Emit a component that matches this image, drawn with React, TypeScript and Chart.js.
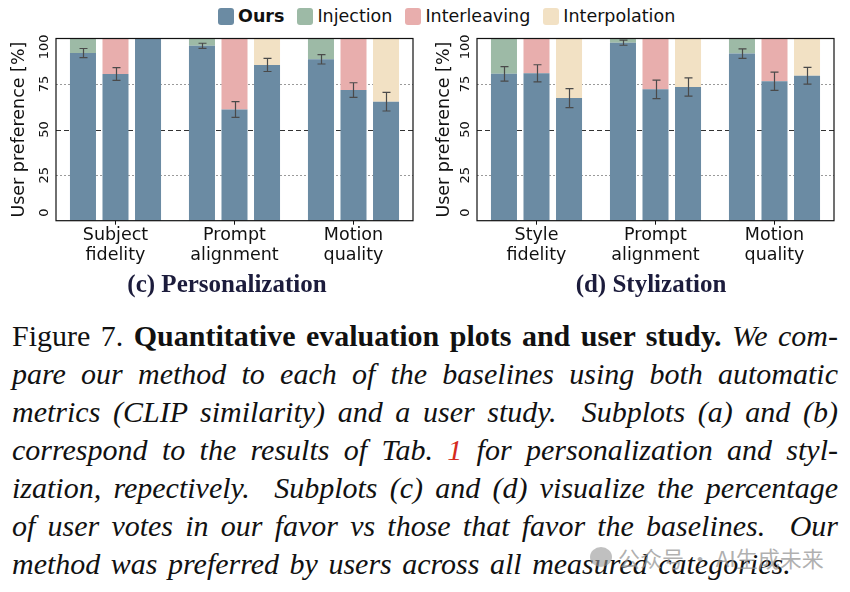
import React, { useEffect, useRef } from 'react';
import { Chart, registerables } from 'chart.js';

Chart.register(...registerables);

// ---------------- data ----------------
const personalizationCategories = [['Subject', 'fidelity'], ['Prompt', 'alignment'], ['Motion', 'quality']];
const stylizationCategories = [['Style', 'fidelity'], ['Prompt', 'alignment'], ['Motion', 'quality']];
const baselineNames = ['Injection', 'Interleaving', 'Interpolation'];
const yTickValues = [0, 25, 50, 75, 100];
const dottedGridValues = [25, 75];
const dashedRefValues = [50];

// (c) Personalization – share of votes for Ours vs each baseline
const persOursVsInjection = [92, 96, 88.6];
const persOursVsInterleaving = [80.5, 61, 71.7];
const persOursVsInterpolation = [100, 85.5, 65.3];
const persInjection = [8, 4, 11.4];
const persInterleaving = [19.5, 39, 28.3];
const persInterpolation = [0, 14.5, 34.7];
const persErrInjection = [2.5, 1.4, 2.6];
const persErrInterleaving = [3.5, 4.3, 4];
const persErrInterpolation = [0, 3.6, 5.1];

// (d) Stylization
const styOursVsInjection = [80.6, 97.7, 91.7];
const styOursVsInterleaving = [80.9, 72.1, 76.5];
const styOursVsInterpolation = [67.3, 73.4, 79.6];
const styInjection = [19.4, 2.3, 8.3];
const styInterleaving = [19.1, 27.9, 23.5];
const styInterpolation = [32.7, 26.6, 20.4];
const styErrInjection = [4, 1.4, 2.6];
const styErrInterleaving = [4.7, 5.1, 5];
const styErrInterpolation = [5.2, 5, 4.6];

// ---------------- style ----------------
const FONT = "'DejaVu Sans', sans-serif";
const SERIF = "'Liberation Serif', 'Times New Roman', serif";
const C_OURS = '#6b8ba3';
const C_INJ = '#9dbaa6';
const C_INTL = '#e8aead';
const C_INTP = '#f2e1c4';
const baselineColors = [C_INJ, C_INTL, C_INTP];

const decor = {
  id: 'decor',
  beforeDatasetsDraw(chart: any) {
    const { ctx, chartArea: a, scales } = chart;
    const y = scales.y;
    ctx.save();
    ctx.lineWidth = 1;
    ctx.strokeStyle = '#9a9a9a';
    ctx.setLineDash([2, 2]);
    for (const v of dottedGridValues) {
      const py = Math.round(y.getPixelForValue(v)) + 0.5;
      ctx.beginPath();
      ctx.moveTo(a.left, py);
      ctx.lineTo(a.right, py);
      ctx.stroke();
    }
    ctx.strokeStyle = '#333';
    ctx.setLineDash([5, 3]);
    for (const v of dashedRefValues) {
      const py = Math.round(y.getPixelForValue(v)) + 0.5;
      ctx.beginPath();
      ctx.moveTo(a.left, py);
      ctx.lineTo(a.right, py);
      ctx.stroke();
    }
    ctx.restore();
  },
  afterDatasetsDraw(chart: any) {
    const { ctx, chartArea: a, scales } = chart;
    const y = scales.y;
    ctx.save();
    // error bars
    ctx.strokeStyle = '#4a4a4a';
    ctx.lineWidth = 1.2;
    ctx.setLineDash([]);
    chart.data.datasets.forEach((ds: any, i: number) => {
      if (!ds.errs) return;
      const meta = chart.getDatasetMeta(i);
      meta.data.forEach((el: any, j: number) => {
        const v = ds.data[j];
        const e = ds.errs[j];
        const x = Math.round(el.x) + 0.5;
        const y1 = y.getPixelForValue(v + e);
        const y2 = y.getPixelForValue(v - e);
        ctx.beginPath();
        ctx.moveTo(x, y1);
        ctx.lineTo(x, y2);
        ctx.moveTo(x - 4, y1);
        ctx.lineTo(x + 4, y1);
        ctx.moveTo(x - 4, y2);
        ctx.lineTo(x + 4, y2);
        ctx.stroke();
      });
    });
    // frame
    ctx.strokeStyle = '#111';
    ctx.lineWidth = 1.2;
    ctx.strokeRect(a.left, a.top, a.right - a.left, a.bottom - a.top);
    // rotated y tick labels
    ctx.fillStyle = '#111';
    ctx.font = `13px ${FONT}`;
    ctx.textAlign = 'center';
    ctx.textBaseline = 'middle';
    for (const t of yTickValues) {
      const txt = String(t);
      const w = ctx.measureText(txt).width;
      let py = y.getPixelForValue(t);
      py = Math.max(py, a.top - 4 + w / 2);
      py = Math.min(py, a.bottom - 4 - w / 2);
      ctx.save();
      ctx.translate(a.left - 11, py);
      ctx.rotate(-Math.PI / 2);
      ctx.fillText(txt, 0, 0);
      ctx.restore();
    }
    ctx.restore();
  },
};

type PanelProps = {
  cats: string[][];
  ours: number[][];
  base: number[][];
  errs: number[][];
  yWidth: number;
  padRight: number;
};

function PanelChart({ cats, ours, base, errs, yWidth, padRight }: PanelProps) {
  const ref = useRef<HTMLCanvasElement>(null);
  useEffect(() => {
    const datasets: any[] = [];
    baselineNames.forEach((name, k) => {
      datasets.push({
        label: 'Ours',
        data: ours[k],
        errs: errs[k],
        backgroundColor: C_OURS,
        stack: 's' + k,
        borderWidth: 0,
      });
      datasets.push({
        label: name,
        data: base[k],
        backgroundColor: baselineColors[k],
        stack: 's' + k,
        borderWidth: 0,
      });
    });
    const chart = new Chart(ref.current as HTMLCanvasElement, {
      type: 'bar',
      data: { labels: cats as any, datasets },
      options: {
        animation: false,
        responsive: false,
        devicePixelRatio: 1,
        layout: { padding: { left: 0, top: 8.5, right: padRight, bottom: 0 } },
        plugins: { legend: { display: false }, tooltip: { enabled: false } },
        datasets: { bar: { categoryPercentage: 0.82, barPercentage: 0.8 } },
        scales: {
          x: {
            stacked: true,
            offset: true,
            grid: {
              display: true,
              drawOnChartArea: false,
              drawTicks: true,
              tickLength: 4,
              tickColor: '#111',
              tickWidth: 1,
              offset: false,
            },
            border: { display: false },
            ticks: {
              color: '#111',
              font: { family: FONT, size: 17.5, lineHeight: 1.15 },
              padding: 1,
              maxRotation: 0,
              minRotation: 0,
              autoSkip: false,
            },
            afterFit: (s: any) => {
              s.height = 54.3;
            },
          },
          y: {
            stacked: true,
            min: 0,
            max: 100,
            grid: { display: false },
            border: { display: false },
            ticks: { display: false },
            title: {
              display: true,
              text: 'User preference [%]',
              color: '#111',
              font: { family: FONT, size: 17.5 },
              padding: { top: 8.5, bottom: 0 },
            },
            afterFit: (s: any) => {
              s.width = yWidth;
            },
          },
        } as any,
      } as any,
      plugins: [decor as any],
    });
    return () => chart.destroy();
  }, []);
  return <canvas ref={ref} width={425} height={245} style={{ display: 'block' }} />;
}

const legendItems = [
  { name: 'Ours', color: C_OURS, bold: true },
  { name: baselineNames[0], color: C_INJ, bold: false },
  { name: baselineNames[1], color: C_INTL, bold: false },
  { name: baselineNames[2], color: C_INTP, bold: false },
];

const captionLine: React.CSSProperties = {
  width: 826,
  textAlign: 'justify',
  textAlignLast: 'justify' as any,
  whiteSpace: 'nowrap',
  height: 38,
  lineHeight: '38px',
};

export default function App() {
  return (
    <div
      style={{
        position: 'absolute',
        left: 0,
        top: 0,
        width: 850,
        height: 592,
        background: '#fff',
        overflow: 'hidden',
      }}
    >
      {/* legend */}
      <div
        style={{
          position: 'absolute',
          left: 218,
          top: 6,
          display: 'flex',
          alignItems: 'center',
          fontFamily: FONT,
          fontSize: 17.5,
          color: '#111',
          height: 20,
        }}
      >
        {legendItems.map((it, i) => (
          <div key={i} style={{ display: 'flex', alignItems: 'center', marginRight: 13 }}>
            <div
              style={{
                width: 16,
                height: 17,
                borderRadius: 3,
                background: it.color,
                marginRight: 4,
              }}
            />
            <span style={{ fontWeight: it.bold ? 'bold' : 'normal' }}>{it.name}</span>
          </div>
        ))}
      </div>

      {/* charts */}
      <div style={{ position: 'absolute', left: 0, top: 30 }}>
        <PanelChart
          cats={personalizationCategories}
          ours={[persOursVsInjection, persOursVsInterleaving, persOursVsInterpolation]}
          base={[persInjection, persInterleaving, persInterpolation]}
          errs={[persErrInjection, persErrInterleaving, persErrInterpolation]}
          yWidth={56}
          padRight={12}
        />
      </div>
      <div style={{ position: 'absolute', left: 425, top: 30 }}>
        <PanelChart
          cats={stylizationCategories}
          ours={[styOursVsInjection, styOursVsInterleaving, styOursVsInterpolation]}
          base={[styInjection, styInterleaving, styInterpolation]}
          errs={[styErrInjection, styErrInterleaving, styErrInterpolation]}
          yWidth={52}
          padRight={16}
        />
      </div>

      {/* subplot captions */}
      <div
        style={{
          position: 'absolute',
          left: 127,
          width: 200,
          top: 270,
          textAlign: 'center',
          fontFamily: SERIF,
          fontWeight: 'bold',
          fontSize: 25,
          color: '#1c1c3c',
          whiteSpace: 'nowrap',
        }}
      >
        (c) Personalization
      </div>
      <div
        style={{
          position: 'absolute',
          left: 551,
          width: 200,
          top: 270,
          textAlign: 'center',
          fontFamily: SERIF,
          fontWeight: 'bold',
          fontSize: 25,
          color: '#1c1c3c',
          whiteSpace: 'nowrap',
        }}
      >
        (d) Stylization
      </div>

      {/* figure caption */}
      <div
        style={{
          position: 'absolute',
          left: 12,
          top: 317,
          fontFamily: SERIF,
          fontSize: 30,
          color: '#111',
        }}
      >
        <div style={captionLine}>
          Figure 7. <b>Quantitative evaluation plots and user study.</b> <i>We com-</i>
        </div>
        <div style={captionLine}>
          <i>pare our method to each of the baselines using both automatic</i>
        </div>
        <div style={captionLine}>
          <i>metrics (CLIP similarity) and a user study. &nbsp;Subplots (a) and (b)</i>
        </div>
        <div style={captionLine}>
          <i>
            correspond to the results of Tab. <span style={{ color: '#d42a1e' }}>1</span> for personalization and styl-
          </i>
        </div>
        <div style={captionLine}>
          <i>ization, repectively. &nbsp;Subplots (c) and (d) visualize the percentage</i>
        </div>
        <div style={captionLine}>
          <i>of user votes in our favor vs those that favor the baselines. &nbsp;Our</i>
        </div>
        <div style={{ ...captionLine, textAlign: 'left', textAlignLast: 'left' as any, wordSpacing: 3 }}>
          <i>method was preferred by users across all measured categories.</i>
        </div>
      </div>

      {/* watermark */}
      <div
        style={{
          position: 'absolute',
          left: 590,
          top: 541,
          fontFamily: "'Noto Sans CJK SC', sans-serif",
          fontSize: 22,
          color: 'rgba(150,150,150,0.75)',
          whiteSpace: 'nowrap',
          display: 'flex',
          alignItems: 'center',
        }}
      >
        <span
          style={{
            display: 'inline-block',
            width: 22,
            height: 20,
            borderRadius: '50%',
            background: 'rgba(150,150,150,0.6)',
            marginRight: 6,
          }}
        />
        公众号 · AI生成未来
      </div>
    </div>
  );
}
